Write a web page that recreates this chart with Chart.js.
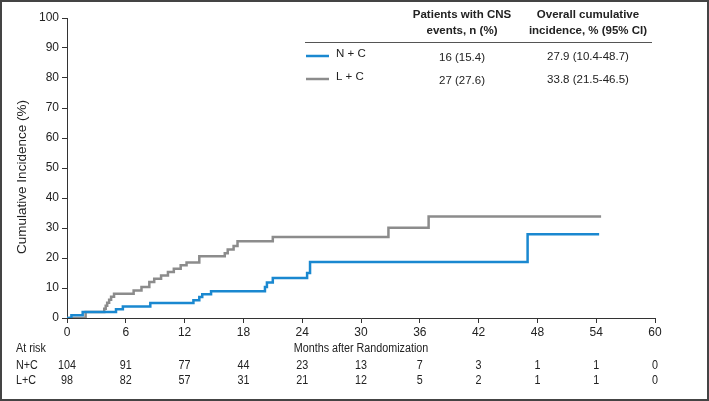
<!DOCTYPE html>
<html>
<head>
<meta charset="utf-8">
<script src="https://cdn.jsdelivr.net/npm/chart.js@4"></script>
<style>
  html, body { margin: 0; padding: 0; background: #fff; }
  #wrap { position: relative; width: 709px; height: 401px; }
</style>
</head>
<body>
<div id="wrap"><canvas id="cnsChart"></canvas></div>
<script>
// cumulative incidence, step points (month, %)
const ncMonths = [0, 0.45, 1.6, 5.0, 5.7, 8.5, 12.9, 13.5, 13.8, 14.7, 20.2, 20.4, 21.0, 24.5, 24.8, 47.0, 54.3];
const ncValues = [0, 0.9, 2.0, 2.9, 3.8, 5.0, 5.9, 7.0, 7.9, 8.9, 10.3, 11.8, 13.3, 15.0, 18.7, 27.9, 27.9];

const lcMonths = [0, 1.9, 3.8, 3.95, 4.1, 4.3, 4.5, 4.8, 6.8, 7.6, 8.4, 8.9, 9.6, 10.3, 10.9, 11.6, 12.2, 13.5, 16.1, 16.4, 17.0, 17.4, 21.0, 32.8, 36.9, 54.5];
const lcValues = [0, 2.0, 3.1, 4.1, 5.1, 6.1, 7.1, 8.1, 9.2, 10.3, 12.0, 13.1, 14.2, 15.3, 16.4, 17.6, 18.5, 20.6, 21.6, 22.8, 24.0, 25.6, 27.0, 30.1, 33.8, 33.8];

// numbers at risk
const atRiskMonths = [0, 6, 12, 18, 24, 30, 36, 42, 48, 54, 60];
const atRiskNC = [104, 91, 77, 44, 23, 13, 7, 3, 1, 1, 0];
const atRiskLC = [98, 82, 57, 31, 21, 12, 5, 2, 1, 1, 0];

// summary table
const groupNames = ['N + C', 'L + C'];
const riskNames = ['N+C', 'L+C'];
const eventsText = ['16 (15.4)', '27 (27.6)'];
const incidenceText = ['27.9 (10.4-48.7)', '33.8 (21.5-46.5)'];

const BLUE = '#1a88d0';
const GRAY = '#8c8c8c';
const AXIS = '#333';
const SANS = '"Liberation Sans", Arial, sans-serif';

const toPoints = (xs, ys) => xs.map((x, i) => ({x: x, y: ys[i]}));

// condensed-looking text: squeeze horizontally
function narrowText(ctx, text, x, y, align) {
    const squeeze = 0.86;
    ctx.save();
    ctx.translate(x, y);
    ctx.scale(squeeze, 1);
    ctx.textAlign = align;
    ctx.fillText(text, 0, 0);
    ctx.restore();
}

const extras = {
    id: 'extras',
    afterDraw(chart) {
        const ctx = chart.ctx;
        const xs = chart.scales.x;
        const area = chart.chartArea;
        ctx.save();
        ctx.fillStyle = '#222';
        ctx.textBaseline = 'middle';

        // y axis title
        ctx.save();
        ctx.translate(22, 177);
        ctx.rotate(-Math.PI / 2);
        ctx.textAlign = 'center';
        ctx.font = '13.5px ' + SANS;
        ctx.fillText('Cumulative Incidence (%)', 0, 0);
        ctx.restore();

        // x axis title + at risk table
        ctx.font = '12.5px ' + SANS;
        narrowText(ctx, 'At risk', 16, 349, 'left');
        narrowText(ctx, 'Months after Randomization', (area.left + area.right) / 2, 349, 'center');
        narrowText(ctx, riskNames[0], 16, 366, 'left');
        narrowText(ctx, riskNames[1], 16, 381, 'left');
        atRiskMonths.forEach((m, i) => {
            const px = xs.getPixelForValue(m);
            narrowText(ctx, String(atRiskNC[i]), px, 366, 'center');
            narrowText(ctx, String(atRiskLC[i]), px, 381, 'center');
        });

        // summary table top right
        ctx.font = 'bold 11.5px ' + SANS;
        ctx.textAlign = 'center';
        ctx.fillText('Patients with CNS', 462, 15);
        ctx.fillText('events, n (%)', 462, 31);
        ctx.fillText('Overall cumulative', 588, 15);
        ctx.fillText('incidence, % (95% CI)', 588, 31);
        ctx.strokeStyle = '#555';
        ctx.lineWidth = 1;
        ctx.beginPath();
        ctx.moveTo(305, 42.5);
        ctx.lineTo(652, 42.5);
        ctx.stroke();

        const rowY = [56, 79];
        const colors = [BLUE, GRAY];
        ctx.font = '11.5px ' + SANS;
        rowY.forEach((y, i) => {
            ctx.strokeStyle = colors[i];
            ctx.lineWidth = 2.5;
            ctx.beginPath();
            ctx.moveTo(306, y);
            ctx.lineTo(329, y);
            ctx.stroke();
            ctx.textAlign = 'left';
            ctx.fillText(groupNames[i], 336, y - 2);
            ctx.textAlign = 'center';
            ctx.fillText(eventsText[i], 462, y + 2);
            ctx.fillText(incidenceText[i], 588, y + 1);
        });

        // outer frame
        ctx.strokeStyle = '#444';
        ctx.lineWidth = 2;
        ctx.strokeRect(1, 1, chart.width - 2, chart.height - 2);
        ctx.restore();
    }
};

new Chart(document.getElementById('cnsChart').getContext('2d'), {
    type: 'line',
    data: {
        datasets: [
            {
                label: 'N + C',
                data: toPoints(ncMonths, ncValues),
                borderColor: BLUE,
                borderWidth: 2.5,
                stepped: 'before',
                pointRadius: 0,
                fill: false
            },
            {
                label: 'L + C',
                data: toPoints(lcMonths, lcValues),
                borderColor: GRAY,
                borderWidth: 2.5,
                stepped: 'before',
                pointRadius: 0,
                fill: false
            }
        ]
    },
    options: {
        responsive: true,
        maintainAspectRatio: false,
        animation: false,
        layout: {padding: {left: 0, top: 18, right: 54, bottom: 63}},
        plugins: {legend: {display: false}, tooltip: {enabled: false}},
        scales: {
            x: {
                type: 'linear',
                min: 0,
                max: 60,
                ticks: {stepSize: 6, color: '#222', padding: 2, maxRotation: 0, font: {family: SANS, size: 12}},
                grid: {drawOnChartArea: false, drawTicks: true, tickLength: 5, color: AXIS},
                border: {display: true, color: AXIS, width: 1},
                afterFit: (scale) => { scale.height = 20; }
            },
            y: {
                min: 0,
                max: 100,
                ticks: {stepSize: 10, color: '#222', padding: 3, font: {family: SANS, size: 12}},
                grid: {drawOnChartArea: false, drawTicks: true, tickLength: 5, color: AXIS},
                border: {display: true, color: AXIS, width: 1},
                afterFit: (scale) => { scale.width = 67; }
            }
        }
    },
    plugins: [extras]
});
</script>
</body>
</html>
